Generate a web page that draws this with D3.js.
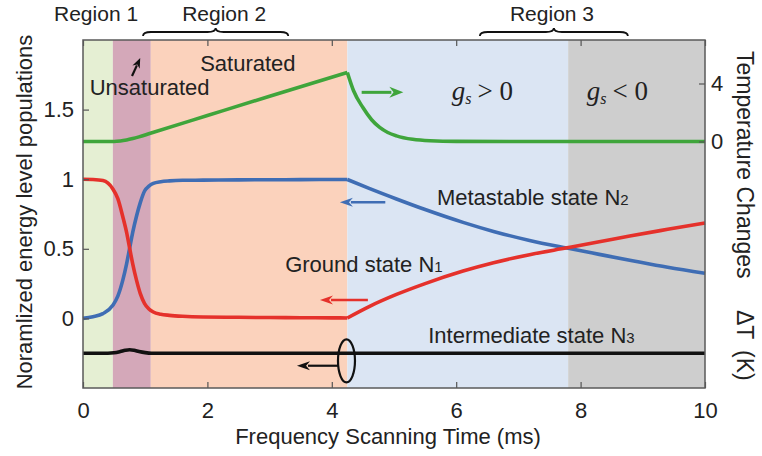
<!DOCTYPE html>
<html>
<head>
<meta charset="utf-8">
<script src="https://cdn.jsdelivr.net/npm/d3@7"></script>
<style>
  body { margin: 0; background: #fff; }
  text { font-family: "Liberation Sans", Arial, sans-serif; fill: #222; }
</style>
</head>
<body>
<div id="chart"></div>
<script>
// x values (ms) and populations
const timeN = [0, 0.16, 0.32, 0.48, 0.56, 0.64, 0.70, 0.75, 0.80, 0.86, 0.92, 0.99, 1.06, 1.13, 1.25, 1.39, 1.6, 1.93, 2.5, 3, 3.5, 4, 4.25,
               4.6, 5.04, 5.5, 6.11, 6.6, 7.18, 7.78, 8.3, 8.79, 9.4, 10];
const groundN1 = [1.0, 0.998, 0.99, 0.93, 0.86, 0.73, 0.62, 0.505, 0.39, 0.275, 0.18, 0.107, 0.068, 0.046, 0.03, 0.022, 0.015, 0.01, 0.008, 0.006, 0.005, 0.004, 0.003,
                  0.085, 0.172, 0.25, 0.34, 0.40, 0.458, 0.507, 0.55, 0.592, 0.64, 0.686];
const metaN2 = [0.0, 0.012, 0.034, 0.094, 0.16, 0.275, 0.39, 0.505, 0.62, 0.734, 0.83, 0.915, 0.95, 0.97, 0.982, 0.988, 0.992, 0.993, 0.995, 0.996, 0.997, 0.998, 0.998,
                0.934, 0.858, 0.782, 0.69, 0.625, 0.56, 0.505, 0.46, 0.418, 0.367, 0.324];
const timeN3 = [0, 0.4, 0.5, 0.6, 0.68, 0.75, 0.82, 0.9, 1.0, 1.1, 2, 4, 6, 8, 10];
const interN3 = [-0.25, -0.25, -0.247, -0.238, -0.229, -0.225, -0.229, -0.238, -0.246, -0.25, -0.25, -0.25, -0.25, -0.25, -0.25];
const timeT = [0, 0.3, 0.5, 0.6, 0.7, 0.8, 0.9, 1.07, 2, 3, 4.25, 4.35, 4.5, 4.64, 4.77, 4.9, 5.04, 5.3, 5.58, 6, 8, 10];
const tempT = [0, 0, 0, 0.03, 0.1, 0.2, 0.32, 0.55, 1.79, 3.12, 4.76, 3.5, 2.34, 1.5, 0.97, 0.62, 0.39, 0.15, 0.05, 0.01, 0, 0];

const regionEdges = [0, 0.48, 1.09, 4.25, 7.8, 10];
const regionColors = ["#e5efd3", "#d4a8b9", "#fbd2bc", "#dbe5f3", "#cecece"];
const xTicks = [0, 2, 4, 6, 8, 10];
const yLeftTicks = [0, 0.5, 1, 1.5];
const yRightTicks = [0, 4];
const corner = 4.25;

const W = 762, H = 456;
const margin = { top: 40, right: 57, bottom: 68, left: 83 };

const svg = d3.select("#chart").append("svg")
    .attr("width", W)
    .attr("height", H);

const x = d3.scaleLinear().domain([0, 10]).range([margin.left, W - margin.right]);
const yL = d3.scaleLinear().domain([-0.5, 2]).range([H - margin.bottom, margin.top]);
const yR = d3.scaleLinear().domain([-17, 7]).range([H - margin.bottom, margin.top]);

// background regions
svg.append("g").selectAll("rect")
    .data(regionColors)
    .join("rect")
    .attr("x", (d, i) => x(regionEdges[i]))
    .attr("width", (d, i) => x(regionEdges[i + 1]) - x(regionEdges[i]))
    .attr("y", margin.top)
    .attr("height", H - margin.bottom - margin.top)
    .attr("fill", d => d);

// curves, split at the kink so the corner stays sharp
function drawSeries(ts, vs, yScale, color, split) {
    const pts = ts.map((t, i) => [t, vs[i]]);
    const parts = split ? [pts.filter(p => p[0] <= corner), pts.filter(p => p[0] >= corner)] : [pts];
    const line = d3.line()
        .x(d => x(d[0]))
        .y(d => yScale(d[1]))
        .curve(d3.curveMonotoneX);
    parts.forEach(part => {
        svg.append("path")
            .attr("d", line(part))
            .attr("fill", "none")
            .attr("stroke", color)
            .attr("stroke-width", 3.6)
            .attr("stroke-linejoin", "round");
    });
}

drawSeries(timeT, tempT, yR, "#3fa53b", true);
drawSeries(timeN, metaN2, yL, "#3f6db4", true);
drawSeries(timeN, groundN1, yL, "#e5312b", true);
drawSeries(timeN3, interN3, yL, "#111", false);

// axes (ticks point inward)
svg.append("g")
    .attr("transform", `translate(0,${H - margin.bottom})`)
    .call(d3.axisBottom(x).tickValues(xTicks).tickFormat(d3.format("d")).tickSize(-6).tickSizeOuter(0).tickPadding(14));
svg.append("g")
    .attr("transform", `translate(0,${margin.top})`)
    .call(d3.axisTop(x).tickValues(xTicks).tickFormat("").tickSize(-6).tickSizeOuter(0));
svg.append("g")
    .attr("transform", `translate(${margin.left},0)`)
    .call(d3.axisLeft(yL).tickValues(yLeftTicks).tickFormat(d => d).tickSize(-6).tickSizeOuter(0).tickPadding(9));
svg.append("g")
    .attr("transform", `translate(${W - margin.right},0)`)
    .call(d3.axisRight(yR).tickValues(yRightTicks).tickSize(-6).tickSizeOuter(0).tickPadding(6));

svg.selectAll(".domain").remove();
svg.selectAll(".tick line").attr("stroke", "#555").attr("stroke-width", 1.2);
svg.selectAll(".tick text").style("font-size", "22px").attr("fill", "#222");

svg.append("rect")
    .attr("x", margin.left)
    .attr("y", margin.top)
    .attr("width", W - margin.right - margin.left)
    .attr("height", H - margin.bottom - margin.top)
    .attr("fill", "none")
    .attr("stroke", "#5a5a5a")
    .attr("stroke-width", 1.5);

// axis titles
svg.append("text")
    .attr("x", (margin.left + W - margin.right) / 2 - 6)
    .attr("y", 444)
    .attr("text-anchor", "middle")
    .style("font-size", "22px")
    .text("Frequency Scanning Time (ms)");

svg.append("text")
    .attr("transform", "translate(32,212) rotate(-90)")
    .attr("text-anchor", "middle")
    .style("font-size", "22px")
    .text("Noramlized energy level populations");

// right title: pieces placed along the rotated baseline
const rightTitleWords = ["Temperature Changes", "\u0394T", "(K)"];
const rightTitlePos = [51, 310, 350];
svg.append("text")
    .attr("transform", "translate(737,0) rotate(90)")
    .style("font-size", "23px")
    .selectAll("tspan")
    .data(rightTitleWords)
    .join("tspan")
    .attr("x", (d, i) => rightTitlePos[i])
    .attr("y", 0)
    .text(d => d);

// region headers and braces
const regionLabels = ["Region 1", "Region 2", "Region 3"];
const regionLabelX = [0.21, 2.27, 7.54];
svg.append("g").selectAll("text")
    .data(regionLabels)
    .join("text")
    .attr("x", (d, i) => x(regionLabelX[i]))
    .attr("y", 21)
    .attr("text-anchor", "middle")
    .style("font-size", "21px")
    .text(d => d);

function bracePath(x1, x2, yEnd, h) {
    const xm = (x1 + x2) / 2, yMid = yEnd - h / 2, yTip = yEnd - h;
    return `M${x1},${yEnd} Q${x1},${yMid} ${x1 + h},${yMid} L${xm - h},${yMid} Q${xm},${yMid} ${xm},${yTip}` +
        ` Q${xm},${yMid} ${xm + h},${yMid} L${x2 - h},${yMid} Q${x2},${yMid} ${x2},${yEnd}`;
}
const braces = [[0.965, 3.30], [6.38, 8.76]];
braces.forEach(b => {
    svg.append("path")
        .attr("d", bracePath(x(b[0]), x(b[1]), 36, 8))
        .attr("fill", "none")
        .attr("stroke", "#111")
        .attr("stroke-width", 1.8);
});

// text labels inside the plot
function label(t, v, str, size) {
    return svg.append("text")
        .attr("x", x(t))
        .attr("y", yL(v))
        .style("font-size", (size || 22) + "px")
        .text(str);
}
label(2.65, 1.777, "Saturated").attr("text-anchor", "middle");
label(0.108, 1.606, "Unsaturated");

function stateLabel(t, v, str, sub) {
    const el = label(t, v, str);
    el.append("tspan").style("font-size", "15px").text(sub);
}
stateLabel(5.69, 0.814, "Metastable state N", "2");
stateLabel(3.25, 0.334, "Ground state N", "1");
stateLabel(5.55, -0.179, "Intermediate state N", "3");

function gainLabel(t, v, sign) {
    const el = svg.append("text")
        .attr("x", x(t))
        .attr("y", yL(v))
        .style("font-family", "'Liberation Serif', 'Times New Roman', serif")
        .style("font-size", "27px")
        .attr("fill", "#222");
    el.append("tspan").style("font-style", "italic").text("g");
    el.append("tspan").style("font-style", "italic").style("font-size", "16px").attr("dy", 4).text("s");
    el.append("tspan").attr("dy", -4).attr("dx", 6).text(sign + " 0");
}
gainLabel(5.93, 1.569, ">");
gainLabel(8.1, 1.569, "<");

// arrows
function arrow(t1, v1, t2, v2, color, sw, len, half) {
    const x1 = x(t1), y1 = yL(v1), x2 = x(t2), y2 = yL(v2);
    const a = Math.atan2(y2 - y1, x2 - x1);
    const bx = x2 - len * Math.cos(a), by = y2 - len * Math.sin(a);
    svg.append("line")
        .attr("x1", x1).attr("y1", y1)
        .attr("x2", bx + 2 * Math.cos(a)).attr("y2", by + 2 * Math.sin(a))
        .attr("stroke", color)
        .attr("stroke-width", sw);
    const px = -Math.sin(a) * half, py = Math.cos(a) * half;
    svg.append("path")
        .attr("d", `M${x2},${y2} L${bx + px},${by + py} L${bx + 0.3 * len * Math.cos(a)},${by + 0.3 * len * Math.sin(a)} L${bx - px},${by - py} Z`)
        .attr("fill", color);
}
arrow(4.48, 1.624, 5.15, 1.624, "#3fa53b", 3, 14, 5.5);
arrow(4.86, 0.834, 4.13, 0.834, "#3f6db4", 2.4, 13, 4.5);
arrow(4.58, 0.132, 3.81, 0.132, "#e5312b", 2.4, 13, 4.5);
arrow(4.10, -0.34, 3.44, -0.34, "#111", 2.2, 13, 4.5);
arrow(0.788, 1.741, 0.92, 1.87, "#111", 2.2, 10, 4);

// loop marking the black curve's axis
svg.append("ellipse")
    .attr("cx", x(4.236))
    .attr("cy", yL(-0.305))
    .attr("rx", 8.5)
    .attr("ry", 21.5)
    .attr("fill", "none")
    .attr("stroke", "#111")
    .attr("stroke-width", 2.2);
</script>
</body>
</html>
